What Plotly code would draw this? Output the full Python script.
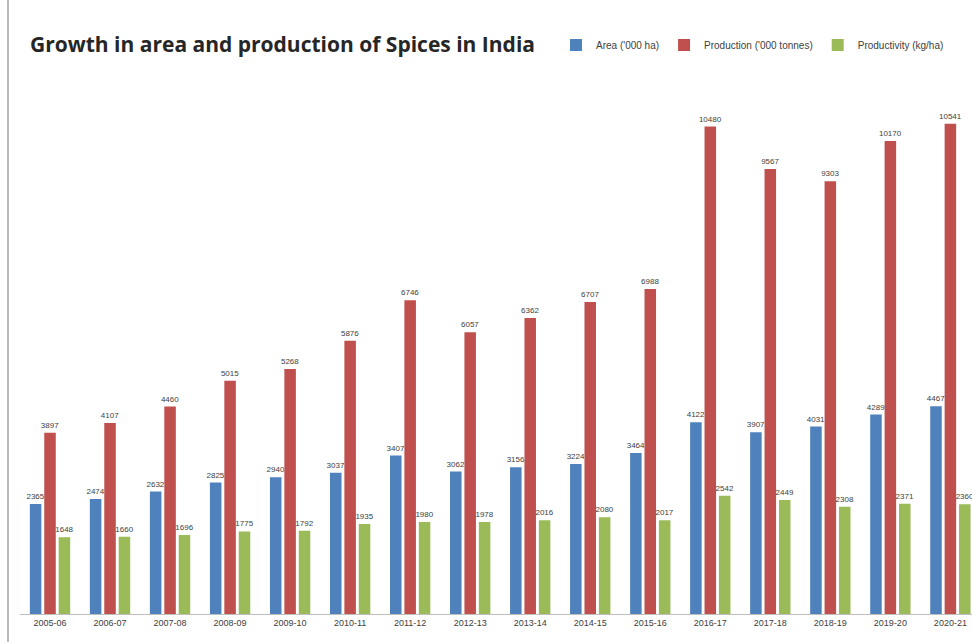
import plotly.graph_objects as go

years = ["2005-06", "2006-07", "2007-08", "2008-09", "2009-10", "2010-11", "2011-12", "2012-13",
         "2013-14", "2014-15", "2015-16", "2016-17", "2017-18", "2018-19", "2019-20", "2020-21"]
area = [2365, 2474, 2632, 2825, 2940, 3037, 3407, 3062, 3156, 3224, 3464, 4122, 3907, 4031, 4289, 4467]
production = [3897, 4107, 4460, 5015, 5268, 5876, 6746, 6057, 6362, 6707, 6988, 10480, 9567, 9303, 10170, 10541]
productivity = [1648, 1660, 1696, 1775, 1792, 1935, 1980, 1978, 2016, 2080, 2017, 2542, 2449, 2308, 2371, 2360]

series = [
    ("Area ('000 ha)", area, "#4F81BD"),
    ("Production ('000 tonnes)", production, "#C0504D"),
    ("Productivity (kg/ha)", productivity, "#9BBB59"),
]

fig = go.Figure()
for name, vals, col in series:
    fig.add_trace(go.Bar(
        x=years, y=vals, name=name,
        marker=dict(color=col, line=dict(width=0)),
        text=[str(v) for v in vals], textposition="outside",
        textfont=dict(size=8, color="#404040", family="Liberation Sans"),
        constraintext="none",
        cliponaxis=True,
    ))

W, H = 972, 642
ml, mr, mt, mb = 20, 0, 85, 28
ph = H - mt - mb
fig.update_layout(
    width=W, height=H,
    margin=dict(l=ml, r=mr, t=mt, b=mb, pad=0),
    paper_bgcolor="white", plot_bgcolor="white",
    barmode="group", bargap=0.28, bargroupgap=0.2,
    font=dict(family="Liberation Sans", color="#404040"),
    title=dict(text="<b>Growth in area and production of Spices in India</b>",
               x=30 / W, xanchor="left", y=1 - 45 / H, yanchor="middle",
               font=dict(family="Open Sans", size=21, color="#262626")),
    legend=dict(orientation="h", x=(556 - ml) / (W - ml - mr), xanchor="left",
                y=1 + (mt - 45) / ph, yanchor="middle",
                font=dict(size=10, color="#404040"), itemwidth=30,
                bgcolor="rgba(0,0,0,0)", tracegroupgap=0),
    showlegend=True,
    xaxis=dict(type="category", range=[-0.5, 15.36], showgrid=False, showline=True, linecolor="#BFBFBF",
               ticks="", tickfont=dict(size=9, color="#404040"), fixedrange=True),
    yaxis=dict(range=[0, 11374], showgrid=False, showticklabels=False, showline=False,
               zeroline=False, ticks=""),
    shapes=[dict(type="line", xref="paper", yref="paper",
                 x0=-12 / (W - ml - mr), x1=-12 / (W - ml - mr), y0=-mb / ph, y1=1 + mt / ph,
                 line=dict(color="#A6A6A6", width=1.5))],
)

fig.write_html("out.html")
